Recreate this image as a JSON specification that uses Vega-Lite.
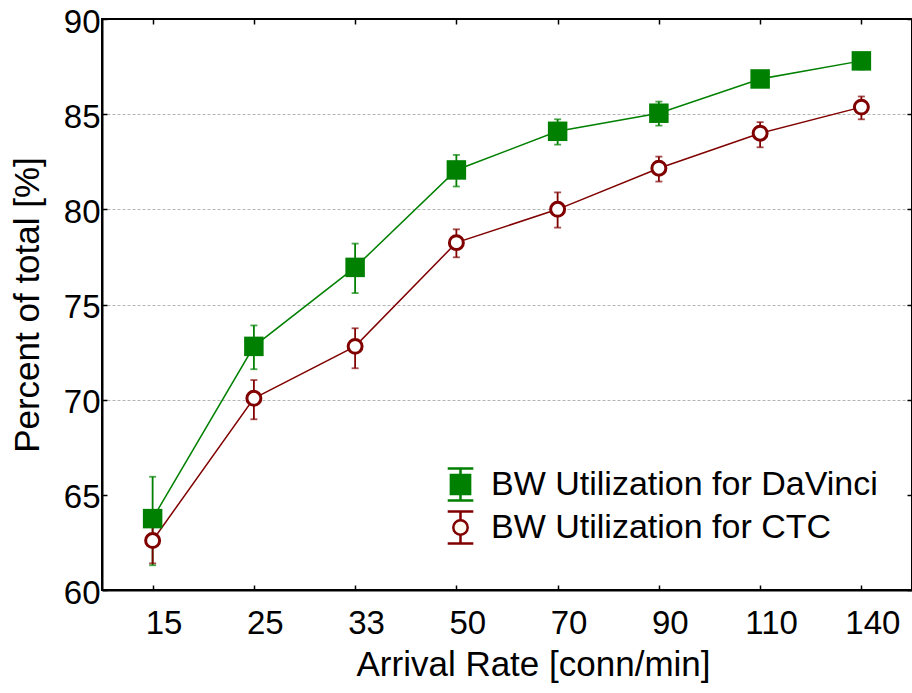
{
  "$schema": "https://vega.github.io/schema/vega-lite/v6.json",
  "width": 810,
  "height": 571,
  "autosize": {"type": "none"},
  "padding": {"left": 102, "top": 19, "right": 0, "bottom": 103},
  "background": "white",
  "config": {
    "view": {"stroke": "black", "strokeWidth": 2},
    "font": "Liberation Sans",
    "axis": {
      "labelFont": "Liberation Sans", "titleFont": "Liberation Sans",
      "labelFontSize": 33, "titleFontSize": 35, "titleFontWeight": "normal",
      "labelColor": "black", "titleColor": "black",
      "domainColor": "black", "domainWidth": 2,
      "tickColor": "black", "tickWidth": 1.5, "tickSize": -5, "grid": false
    },
    "legend": {
      "labelFont": "Liberation Sans", "labelFontSize": 34, "labelColor": "black",
      "symbolSize": 1024, "symbolStrokeWidth": 2.5, "symbolOpacity": 1, "rowPadding": 0,
      "labelOffset": 13, "padding": 0, "labelLimit": 600
    }
  },
  "data": {
    "values": [
      {"rate": "15", "series": "BW Utilization for DaVinci", "v": 63.75, "lo": 61.3, "hi": 65.95},
      {"rate": "25", "series": "BW Utilization for DaVinci", "v": 72.8, "lo": 71.6, "hi": 73.9},
      {"rate": "33", "series": "BW Utilization for DaVinci", "v": 76.95, "lo": 75.6, "hi": 78.2},
      {"rate": "50", "series": "BW Utilization for DaVinci", "v": 82.07, "lo": 81.2, "hi": 82.86},
      {"rate": "70", "series": "BW Utilization for DaVinci", "v": 84.1, "lo": 83.4, "hi": 84.73},
      {"rate": "90", "series": "BW Utilization for DaVinci", "v": 85.05, "lo": 84.4, "hi": 85.66},
      {"rate": "110", "series": "BW Utilization for DaVinci", "v": 86.85, "lo": 86.6, "hi": 87.1},
      {"rate": "140", "series": "BW Utilization for DaVinci", "v": 87.8, "lo": 87.35, "hi": 88.1},
      {"rate": "15", "series": "BW Utilization for CTC", "v": 62.6, "lo": 61.4, "hi": 63.8},
      {"rate": "25", "series": "BW Utilization for CTC", "v": 70.07, "lo": 68.97, "hi": 71.03},
      {"rate": "33", "series": "BW Utilization for CTC", "v": 72.8, "lo": 71.65, "hi": 73.75},
      {"rate": "50", "series": "BW Utilization for CTC", "v": 78.25, "lo": 77.48, "hi": 78.95},
      {"rate": "70", "series": "BW Utilization for CTC", "v": 80.0, "lo": 79.04, "hi": 80.89},
      {"rate": "90", "series": "BW Utilization for CTC", "v": 82.16, "lo": 81.46, "hi": 82.77},
      {"rate": "110", "series": "BW Utilization for CTC", "v": 84.0, "lo": 83.26, "hi": 84.58},
      {"rate": "140", "series": "BW Utilization for CTC", "v": 85.37, "lo": 84.73, "hi": 85.93}
    ]
  },
  "layer": [
    {
      "mark": {"type": "line", "strokeWidth": 1.5},
      "encoding": {
        "x": {"field": "rate", "type": "ordinal", "sort": ["15","25","33","50","70","90","110","140"],
              "scale": {"type": "point", "padding": 0.5},
              "axis": {"orient": "top", "labels": false, "title": null, "domain": false}},
        "y": {"field": "v", "type": "quantitative", "scale": {"domain": [60, 90], "nice": false, "zero": false},
              "axis": {"orient": "right", "labels": false, "title": null, "domain": false, "values": [60,65,70,75,80,85,90]}},
        "detail": {"field": "series"},
        "stroke": {"condition": {"test": "datum.series === 'BW Utilization for CTC'", "value": "#800000"}, "value": "#008000"}
      }
    },
    {
      "mark": {"type": "rule", "strokeWidth": 1.8},
      "encoding": {
        "x": {"field": "rate", "type": "ordinal", "sort": ["15","25","33","50","70","90","110","140"], "axis": null},
        "y": {"field": "lo", "type": "quantitative", "axis": null},
        "y2": {"field": "hi"},
        "stroke": {"condition": {"test": "datum.series === 'BW Utilization for CTC'", "value": "#800000"}, "value": "#008000"}
      }
    },
    {
      "mark": {"type": "tick", "size": 7, "thickness": 1.8},
      "encoding": {
        "x": {"field": "rate", "type": "ordinal", "sort": ["15","25","33","50","70","90","110","140"], "axis": null},
        "y": {"field": "lo", "type": "quantitative", "axis": null},
        "color": {"condition": {"test": "datum.series === 'BW Utilization for CTC'", "value": "#800000"}, "value": "#008000"}
      }
    },
    {
      "mark": {"type": "tick", "size": 7, "thickness": 1.8},
      "encoding": {
        "x": {"field": "rate", "type": "ordinal", "sort": ["15","25","33","50","70","90","110","140"], "axis": null},
        "y": {"field": "hi", "type": "quantitative", "axis": null},
        "color": {"condition": {"test": "datum.series === 'BW Utilization for CTC'", "value": "#800000"}, "value": "#008000"}
      }
    },
    {
      "mark": {"type": "point", "opacity": 1},
      "encoding": {
        "x": {"field": "rate", "type": "ordinal", "sort": ["15","25","33","50","70","90","110","140"],
              "axis": {"orient": "bottom", "title": "Arrival Rate [conn/min]", "labelPadding": 22, "labelAngle": 0,
                       "labelOffset": 11,
                       "titleX": 431, "titleY": 57, "titleBaseline": "top"}},
        "y": {"field": "v", "type": "quantitative",
              "axis": {"orient": "left", "title": "Percent of total [%]", "values": [60,65,70,75,80,85,90],
                       "labelPadding": 7, "labelOffset": 3, "titlePadding": 18,
                       "grid": true, "gridColor": "#b4b4b4", "gridDash": [3, 2], "gridWidth": 1,
                       "gridOpacity": {"condition": {"test": "datum.value < 68 || datum.value > 88", "value": 0}, "value": 1}}},
        "shape": {"condition": {"test": "datum.series === 'BW Utilization for CTC'", "value": "circle"}, "value": "square"},
        "size": {"condition": {"test": "datum.series === 'BW Utilization for CTC'", "value": 195}, "value": 380},
        "fill": {"condition": {"test": "datum.series === 'BW Utilization for CTC'", "value": "#ffffff"}, "value": "#008000"},
        "stroke": {"condition": {"test": "datum.series === 'BW Utilization for CTC'", "value": "#800000"}, "value": "#008000"},
        "strokeWidth": {"condition": {"test": "datum.series === 'BW Utilization for CTC'", "value": 3}, "value": 0}
      }
    },
    {
      "transform": [{"filter": "false"}],
      "mark": {"type": "point"},
      "encoding": {
        "shape": {"field": "series", "type": "nominal",
                  "scale": {"domain": ["BW Utilization for DaVinci", "BW Utilization for CTC"],
                            "range": ["M-0.6,-0.6H0.6V0.6H-0.6Z M0,-1V1 M-0.8,-1H0.8 M-0.8,1H0.8",
                                      "M-0.45,0A0.45,0.45 0 1,0 0.45,0A0.45,0.45 0 1,0 -0.45,0Z M0,-1V-0.45 M0,0.45V1 M-0.8,-1H0.8 M-0.8,1H0.8"]},
                  "legend": {"title": null, "orient": "none", "legendX": 341, "legendY": 448}},
        "fill": {"field": "series", "type": "nominal",
                 "scale": {"domain": ["BW Utilization for DaVinci", "BW Utilization for CTC"], "range": ["#008000", "#fffaf0"]},
                 "legend": {"title": null, "orient": "none", "legendX": 341, "legendY": 448}},
        "stroke": {"field": "series", "type": "nominal",
                   "scale": {"domain": ["BW Utilization for DaVinci", "BW Utilization for CTC"], "range": ["#008000", "#800000"]},
                   "legend": {"title": null, "orient": "none", "legendX": 341, "legendY": 448}}
      }
    }
  ],
  "resolve": {"axis": {"x": "independent", "y": "independent"}}
}
